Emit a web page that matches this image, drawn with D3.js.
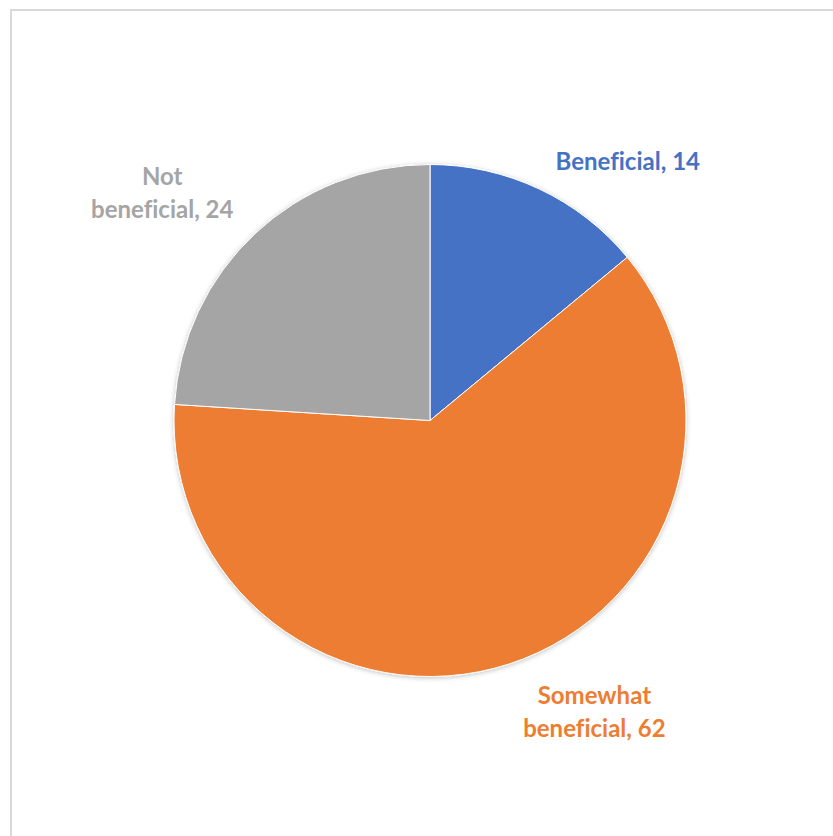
<!doctype html>
<html lang="en">
<head>
    <title></title>
    <script src="https://d3js.org/d3.v7.min.js"></script>
    <style type="text/css">
    body { margin:0; background:#fff; }
    .lbl { font-family: Lato, "Open Sans", sans-serif; font-weight:bold; font-size:24px; font-variant-ligatures:none; }
    </style>
</head>

<body>
</body>

<script type="text/javascript">

    var categories = ["Beneficial", "Somewhat beneficial", "Not beneficial"];
    var values = [14, 62, 24];
    var colors = ["#4472c4", "#ed7d31", "#a5a5a5"];
    // label lines, split as they wrap in the picture
    var labelLines = [["Beneficial, 14"], ["Somewhat", "beneficial, 62"], ["Not", "beneficial, 24"]];

    var width = 833, height = 836;
    var cx = 430, cy = 420.5, radius = 256;

    var svg = d3.select("body")
    .append("svg")
    .attr("width", width)
    .attr("height", height);

    svg.append("rect")
    .attr("x", 11).attr("y", 10)
    .attr("width", width).attr("height", height)
    .attr("fill", "none")
    .attr("stroke", "#d9d9d9")
    .attr("stroke-width", 2);

    var data = categories.map((c, i) => ({name:c, value:values[i], color:colors[i], lines:labelLines[i]}));

    var pie = d3.pie().sort(null).value(d => d.value);
    var arc = d3.arc().innerRadius(0).outerRadius(radius);

    var defs = svg.append("defs");
    var f = defs.append("filter").attr("id", "sh").attr("x", "-10%").attr("y", "-10%").attr("width", "120%").attr("height", "120%");
    f.append("feGaussianBlur").attr("in", "SourceAlpha").attr("stdDeviation", 2.5);
    f.append("feOffset").attr("dx", 0).attr("dy", 1).attr("result", "b");
    f.append("feComponentTransfer").append("feFuncA").attr("type", "linear").attr("slope", 0.25);
    var m = f.append("feMerge");
    m.append("feMergeNode");
    m.append("feMergeNode").attr("in", "SourceGraphic");

    var g = svg.append("g")
    .attr("transform", "translate(" + cx + "," + cy + ")");

    var arcs = pie(data);

    g.append("g").attr("filter", "url(#sh)")
    .selectAll("path")
    .data(arcs)
    .enter()
    .append("path")
    .attr("d", arc)
    .attr("fill", d => d.data.color)
    .attr("stroke", "#fff")
    .attr("stroke-width", 1);

    // label anchor points outside the pie (offset from the slice's mid angle)
    var labelArc = d3.arc().innerRadius(radius + 30).outerRadius(radius + 30);
    var labelShift = [[76, 1], [76, 21], [-72, -17.5]];

    arcs.forEach(function(d, i) {
        var p = labelArc.centroid(d);
        var x = p[0] + labelShift[i][0], y = p[1] + labelShift[i][1];
        var t = g.append("text")
        .attr("class", "lbl")
        .attr("text-anchor", "middle")
        .attr("fill", d.data.color);
        var n = d.data.lines.length;
        d.data.lines.forEach(function(line, k) {
            t.append("tspan")
            .attr("x", x)
            .attr("y", y + (k - (n - 1) / 2) * 33 + 7)
            .text(line);
        });
    });

</script>
</html>
